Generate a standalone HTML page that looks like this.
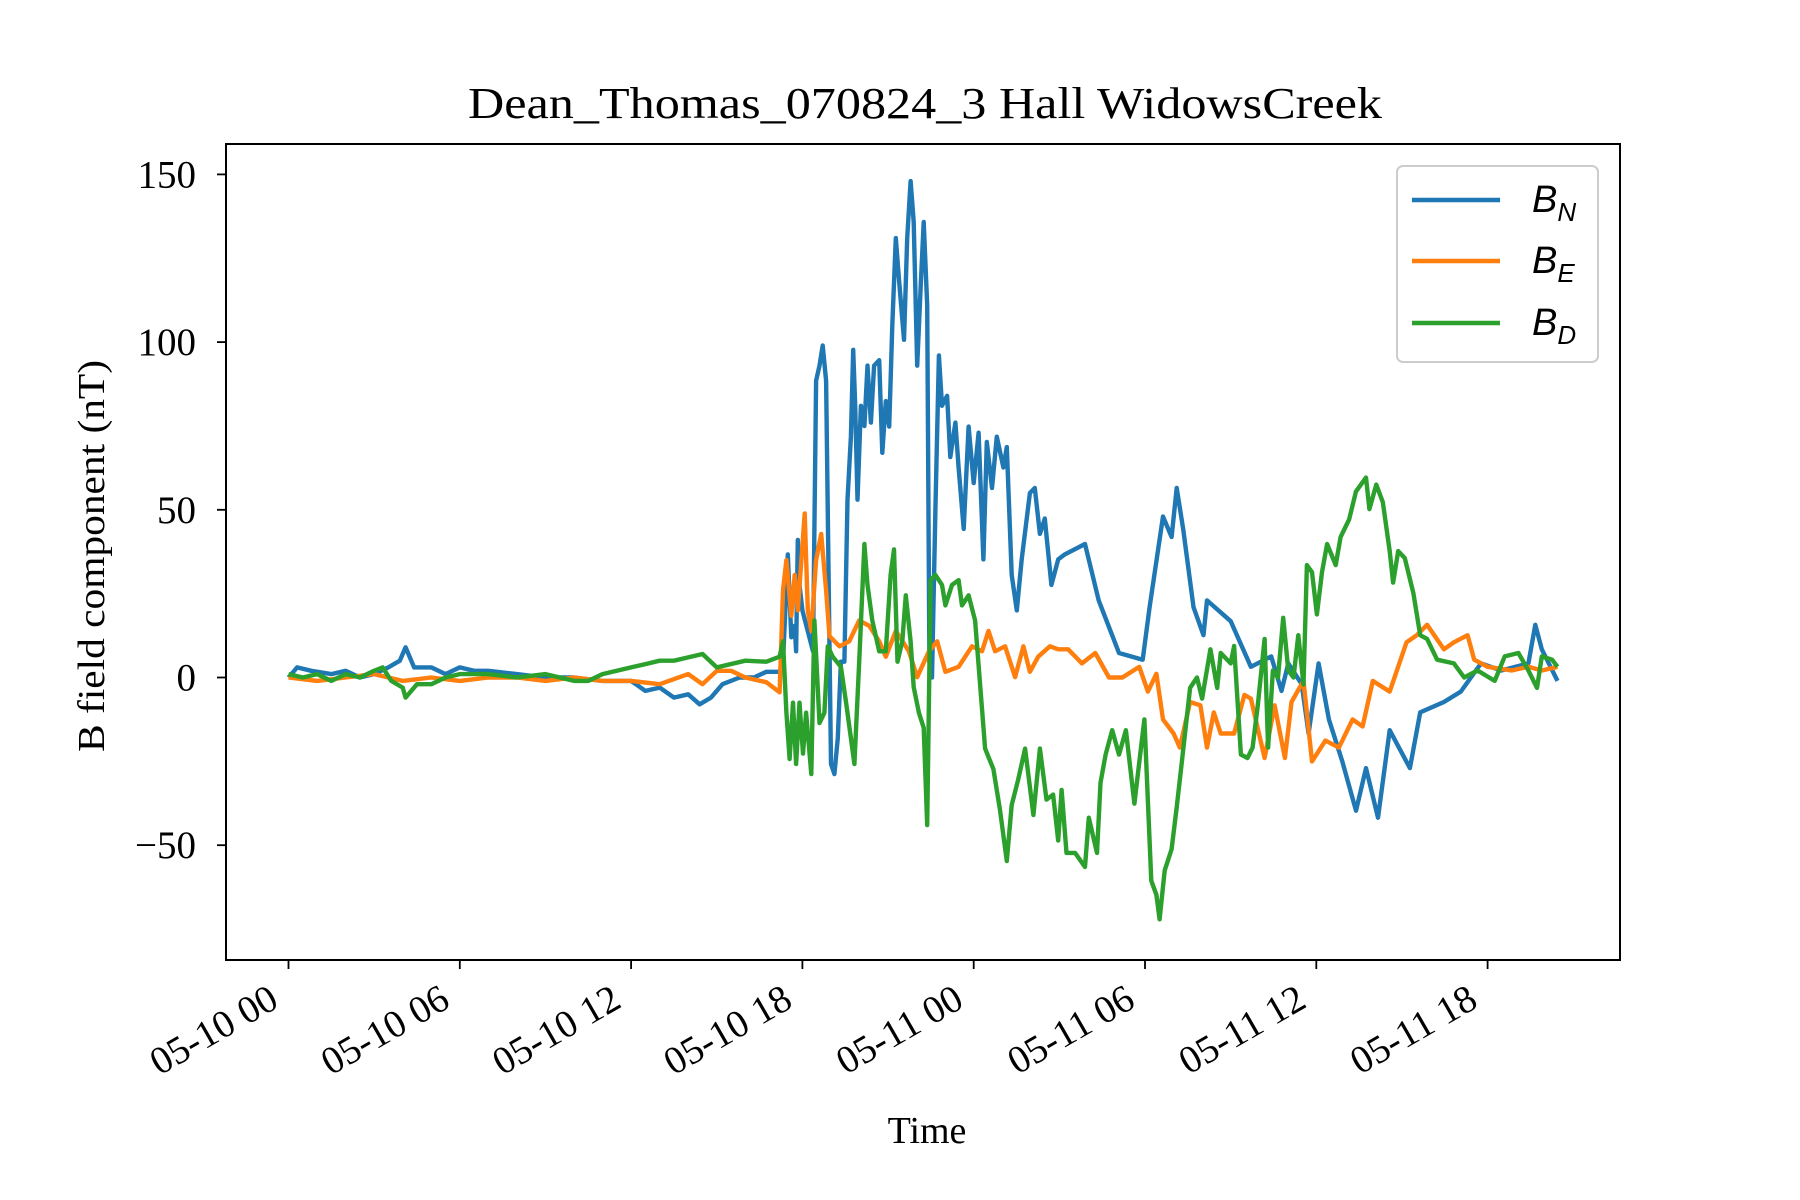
<!DOCTYPE html>
<html><head><meta charset="utf-8"><style>
body{margin:0;background:#fff}
svg{display:block}
text{font-family:"Liberation Serif",serif;fill:#000}
</style></head><body>
<svg id="chart" width="1800" height="1200" viewBox="0 0 1800 1200">
<rect width="1800" height="1200" fill="#fff"/>
<text x="925" y="118" text-anchor="middle" font-size="44" textLength="914" lengthAdjust="spacingAndGlyphs">Dean_Thomas_070824_3 Hall WidowsCreek</text>
<g id="plot"></g>
<g id="axes"></g>
<text x="927" y="1143" text-anchor="middle" font-size="38">Time</text>
<text transform="translate(104,556) rotate(-90)" text-anchor="middle" font-size="38" textLength="392" lengthAdjust="spacingAndGlyphs">B field component (nT)</text>
<g id="legend"></g>
</svg>
<script>
const xTickHours=[0,6,12,18,24,30,36,42];
const xTickLabels=["05-10 00","05-10 06","05-10 12","05-10 18","05-11 00","05-11 06","05-11 12","05-11 18"];
const yTicks=[150,100,50,0,-50];
const yTickLabels=["150","100","50","0","\u221250"];
const seriesNames=["N","E","D"];
const seriesColors=["#1f77b4","#ff7f0e","#2ca02c"];

const bnT=[0,0.3,0.8,1.5,2,2.5,3,3.5,3.9,4.1,4.4,5,5.5,6,6.5,7,8,9,10,11,12,12.5,13,13.5,14,14.4,14.8,15.2,15.8,16.3,16.74,17.2,17.32,17.49,17.61,17.73,17.78,17.84,17.9,18.0,18.37,18.48,18.6,18.71,18.83,19.0,19.12,19.24,19.35,19.47,19.58,19.7,19.78,19.85,19.93,20.05,20.17,20.28,20.4,20.51,20.69,20.8,20.92,21.04,21.15,21.27,21.38,21.56,21.67,21.79,21.9,22.02,22.14,22.25,22.37,22.45,22.54,22.66,22.78,22.89,23.07,23.18,23.36,23.47,23.65,23.82,24.0,24.17,24.34,24.46,24.64,24.81,25.04,25.16,25.33,25.51,25.68,25.97,26.14,26.32,26.49,26.72,26.96,27.19,27.9,28.38,29.09,29.92,30.16,30.63,30.93,31.11,31.34,31.7,32.05,32.17,33.0,33.71,34.42,34.78,35.02,35.49,35.73,36.08,36.44,36.91,37.39,37.74,38.16,38.57,39.28,39.64,40.47,41.06,41.77,42.48,43.43,43.67,43.9,44.45];
const bnV=[0,3,2,1,2,0,1,3,5,9,3,3,1,3,2,2,1,0,0,-1,-1,-4,-3,-6,-5,-8,-6,-2,0,0,1.7,1.7,4.7,36.7,12,15.4,7.8,41,27.6,20,7.8,88.5,93,99,88.5,-25.8,-28.8,-18,4.7,4.7,53,71.8,97.7,81,53,81,75,93,76,93,94.6,67,82.4,74.8,105,131,119,100.7,131,148,135.8,93,116,135.8,111,4.7,0,50,96,81,84,65.7,76,62.6,44.3,74.8,58,73,35.2,70.2,56.5,71.8,62.6,68.7,30.6,20,35.2,55,56.5,42.8,47.4,27.6,35.2,36.7,39.8,23,7.3,5.3,21,48,41.9,56.5,44,21,12.6,23,16.8,3.2,6.3,-4,4.2,-2,-16.7,4.2,-12.5,-25,-39.7,-27,-41.8,-15.7,-27,-10.4,-7.3,-4.2,4.2,2.1,4.2,15.7,8.4,-1];

const beT=[0,1,2,3,4,5,6,7,8,9,10,11,12,13,14,14.5,15,15.5,16,16.74,17.2,17.32,17.44,17.61,17.73,17.84,18.08,18.19,18.31,18.48,18.66,18.83,18.95,19.3,19.64,19.99,20.34,20.69,20.92,21.27,21.73,22.02,22.43,22.72,23.01,23.47,23.94,24.29,24.52,24.75,25.1,25.45,25.74,25.97,26.26,26.67,26.96,27.31,27.79,28.26,28.74,29.21,29.8,30.1,30.4,30.63,31.0,31.22,31.58,31.94,32.17,32.41,32.65,33.12,33.48,33.71,34.19,34.54,34.9,35.13,35.55,35.85,36.32,36.79,37.27,37.62,37.98,38.57,39.16,39.52,39.88,40.47,40.82,41.3,41.53,42.0,42.84,43.43,43.9,44.45];
const beV=[0,-1,0,1,-1,0,-1,0,0,-1,0,-1,-1,-2,1,-2,2,2,0,-1.4,-4.4,26,35,18.4,30.6,20,48.9,20,13.9,35,42.8,26,12.3,9.3,10.8,17,15.4,10.8,6.2,13.9,7.8,0.1,7.8,10.8,1.7,3.2,9.3,7.8,13.9,7.8,9.3,0.1,9.3,1.7,6.2,9.3,8.4,8.4,4.2,7.3,0,0,3.2,-4.2,1.1,-12.5,-16.7,-20.9,-7.3,-8.3,-20.9,-10.4,-16.7,-16.7,-5.2,-6.3,-24,-8.3,-24,-7.3,-1,-25,-18.8,-20.9,-12.5,-14.6,-1,-4.2,10.5,12.6,15.7,8.4,10.5,12.6,5.3,3.2,2.1,3.2,2.1,3.2];

const bdT=[0,0.5,1,1.5,2,2.5,3,3.3,3.6,4,4.1,4.5,5,5.5,6,7,8,9,10,10.5,11,12,12.5,13,13.5,14,14.5,15,16,16.74,17.2,17.32,17.44,17.55,17.67,17.78,17.9,18.02,18.13,18.31,18.42,18.6,18.77,18.89,19.06,19.35,19.53,19.82,19.99,20.17,20.28,20.45,20.69,20.92,21.09,21.21,21.33,21.5,21.62,21.79,21.9,22.08,22.25,22.37,22.49,22.66,22.89,23.01,23.24,23.47,23.59,23.82,24.05,24.4,24.69,24.92,25.16,25.33,25.56,25.8,26.09,26.32,26.55,26.78,26.96,27.08,27.25,27.55,27.9,28.03,28.32,28.44,28.62,28.85,29.09,29.33,29.63,29.86,29.98,30.22,30.4,30.51,30.69,30.93,31.11,31.28,31.58,31.82,32.0,32.29,32.53,32.65,33.0,33.12,33.36,33.59,33.77,33.95,34.19,34.31,34.48,34.66,34.84,35.02,35.2,35.37,35.55,35.67,35.85,36.02,36.2,36.38,36.68,36.85,37.15,37.39,37.74,37.86,38.1,38.33,38.57,38.69,38.87,39.1,39.4,39.64,39.88,40.23,40.82,41.18,41.65,42.25,42.6,43.08,43.43,43.73,43.9,44.26,44.45];
const bdV=[1,0,1,-1,1,0,2,3,-1,-3,-6,-2,-2,0,1,1,0,1,-1,-1,1,3,4,5,5,6,7,3,5,4.7,6.2,10.8,-10.5,-24.3,-7.5,-25.8,-7.5,-22.7,-10.5,-28.8,17,-13.6,-10.5,9.3,6.2,3.2,-7.5,-25.8,4.7,39.8,27.6,17,7.8,7.8,30.6,38.2,4.7,10.8,24.5,10.8,-2.9,-10.5,-15,-44,29,30.6,27.6,21.5,27.6,29,21.5,24.5,17,-21.2,-27.3,-39.5,-54.7,-38,-30.4,-21.2,-41,-21.2,-36.4,-34.9,-48.6,-33.5,-52.3,-52.3,-56.5,-41.8,-52.3,-31.4,-23,-15.7,-23,-15.7,-37.6,-20.9,-12.5,-60.6,-64.8,-72.1,-57.5,-51.2,-38.7,-26.1,-3.1,0,-6.3,8.4,-3.1,7.3,4.2,9.4,-23,-24,-20.9,-8.3,11.5,-20.9,2.1,0,17.8,2.1,0,12.6,-2.1,33.5,31.4,18.8,31.4,39.8,33.5,41.9,47.1,55.5,59.6,50.2,57.5,52.3,37.7,28.3,37.7,35.6,25.1,12.6,11.5,5.3,4.2,0,2.1,-1,6.3,7.3,2.1,-3.1,6.3,5.3,3.2];

const NS="http://www.w3.org/2000/svg";
const L=226,R=1620,T=144,B=960;
const X0=288.5,PXH=28.55;
const Y0=677.5,PXV=167.7/50;
function xs(h){return X0+h*PXH;}
function ys(v){return Y0-v*PXV;}
function mk(tag,attrs,parent){const e=document.createElementNS(NS,tag);for(const k in attrs)e.setAttribute(k,attrs[k]);parent.appendChild(e);return e;}

const plot=document.getElementById('plot');
const axes=document.getElementById('axes');
const legend=document.getElementById('legend');
const cp=mk('clipPath',{id:'clip'},plot);
mk('rect',{x:L,y:T,width:R-L,height:B-T},cp);

const allT=[bnT,beT,bdT],allV=[bnV,beV,bdV];
const lineNames=['bn-line','be-line','bd-line'];
for(let s=0;s<3;s++){
  let d='';
  for(let i=0;i<allT[s].length;i++){d+=(i?'L':'M')+xs(allT[s][i]).toFixed(1)+','+ys(allV[s][i]).toFixed(1);}
  const p=mk('path',{d:d,fill:'none',stroke:seriesColors[s],'stroke-width':4.4,'stroke-linejoin':'round','clip-path':'url(#clip)'},plot);
  
  
}

const frame=mk('rect',{x:L,y:T,width:R-L,height:B-T,fill:'none',stroke:'#000','stroke-width':2},axes);



for(let i=0;i<yTicks.length;i++){
  const y=ys(yTicks[i]);
  const tk=mk('line',{x1:L-9,x2:L,y1:y,y2:y,stroke:'#000','stroke-width':1.8},axes);
  
  
  const t=mk('text',{x:L-30,y:y+13,'text-anchor':'end','font-size':39},axes);
  t.textContent=yTickLabels[i];
  
  
}
for(let i=0;i<xTickHours.length;i++){
  const x=xs(xTickHours[i]);
  const tk=mk('line',{x1:x,x2:x,y1:B,y2:B+9,stroke:'#000','stroke-width':1.8},axes);
  
  
  const t=mk('text',{transform:'translate('+(x-8)+','+(B+46)+') rotate(-30)','text-anchor':'end','font-size':39},axes);
  t.textContent=xTickLabels[i];
  
  
}

const lb=mk('rect',{x:1397,y:166,width:201,height:196,rx:6,fill:'#fff','fill-opacity':0.8,stroke:'#ccc','stroke-width':2},legend);


const ly=[200,261,323];
for(let s=0;s<3;s++){
  const g=mk('g',{},legend);
  
  
  mk('line',{x1:1412,x2:1500,y1:ly[s],y2:ly[s],stroke:seriesColors[s],'stroke-width':4.4},g);
  const t=mk('text',{x:1532,y:ly[s]+12,'font-size':38,'font-style':'italic',style:'font-family:"Liberation Sans",sans-serif'},g);
  t.textContent='B';
  const sub=mk('tspan',{'font-size':26,dy:9},t);
  sub.textContent=seriesNames[s];
}
</script>
</body></html>
